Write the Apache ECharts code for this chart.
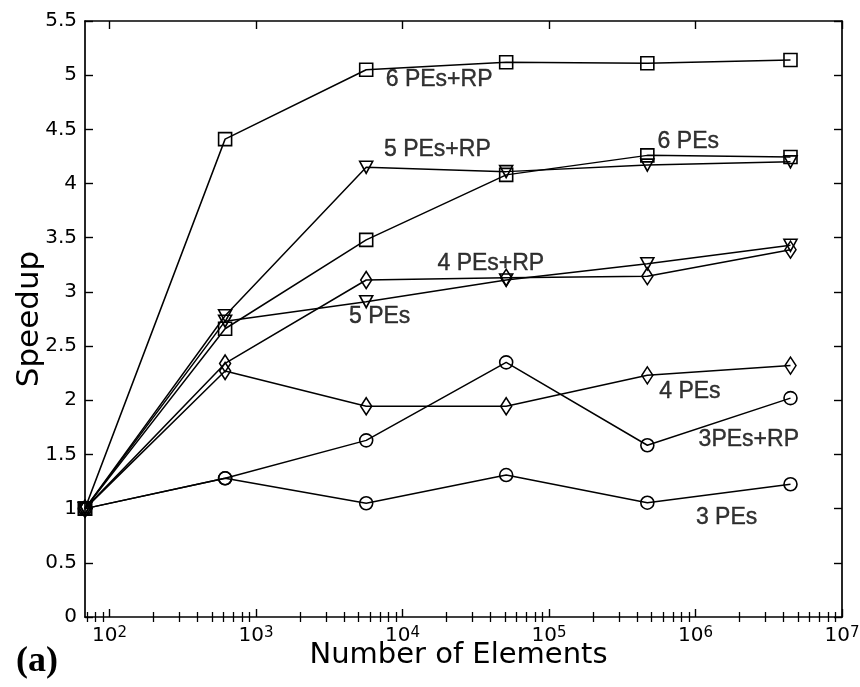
<!DOCTYPE html>
<html><head><meta charset="utf-8">
<script src="https://cdn.jsdelivr.net/npm/echarts@6/dist/echarts.min.js"></script>
<style>html,body{margin:0;padding:0;background:#fff}#c{width:860px;height:687px}</style>
</head><body><div id="c"></div>
<script>
// ---- data ----
const elements = [68, 615, 5650, 51000, 469000, 4450000];
const pe6rp = [1, 4.41, 5.05, 5.12, 5.11, 5.14];
const pe5rp = [1, 2.78, 4.15, 4.11, 4.17, 4.20];
const pe6   = [1, 2.66, 3.48, 4.08, 4.26, 4.245];
const pe5   = [1, 2.73, 2.91, 3.11, 3.26, 3.43];
const pe4rp = [1, 2.34, 3.11, 3.13, 3.145, 3.39];
const pe4   = [1, 2.27, 1.945, 1.945, 2.23, 2.32];
const pe3rp = [1, 1.28, 1.63, 2.35, 1.585, 2.02];
const pe3   = [1, 1.28, 1.05, 1.31, 1.055, 1.225];

const labelTexts = ['6 PEs+RP', '5 PEs+RP', '6 PEs', '4 PEs+RP', '5 PEs', '4 PEs', '3PEs+RP', '3 PEs'];
const labelX = [7620, 7413, 547000, 17180, 4276, 561000, 1042000, 998000];
const labelY = [4.962, 4.316, 4.39, 3.26, 2.77, 2.078, 1.64, 0.915];

const xTickValues = [100, 1000, 10000, 100000, 1000000, 10000000];
const xMinorTickValues = [70, 80, 90];
[100, 1000, 10000, 100000, 1000000].forEach(d => { for (let k = 2; k <= 9; k++) xMinorTickValues.push(k * d); });

// ---- chart ----
const FONT = 'DejaVu Sans';
const black = '#000';
const axisLine = {show: true, onZero: false, lineStyle: {color: black, width: 1.7}};
const xCommon = {type: 'log', logBase: 10, min: 68, max: 10000000, splitLine: {show: false}};

function lineSeries(name, vals, symbol, size, rotate) {
  return {
    type: 'line', name: name,
    data: elements.map((x, i) => [x, vals[i]]),
    symbol: symbol, symbolSize: size, symbolRotate: rotate || 0,
    showAllSymbol: true, clip: false,
    lineStyle: {color: black, width: 1.5},
    itemStyle: {color: 'rgba(255,255,255,0)', borderColor: black, borderWidth: 1.6},
    emphasis: {disabled: true},
    animation: false, z: 3
  };
}

const chart = echarts.init(document.getElementById('c'), null, {renderer: 'canvas'});
chart.setOption({
  animation: false,
  backgroundColor: '#fff',
  grid: {left: 85, right: 18, top: 21, bottom: 70, containLabel: false, outerBoundsMode: 'none'},
  xAxis: [
    Object.assign({}, xCommon, {
      position: 'bottom', axisLine: axisLine,
      axisTick: {show: true, inside: true, length: 8, customValues: xTickValues, lineStyle: {color: black, width: 1.4}},
      axisLabel: {
        show: true, customValues: xTickValues, margin: 9, color: black,
        formatter: v => '{b|10}{s|' + Math.round(Math.log10(v)) + '}',
        rich: {
          b: {fontFamily: FONT, fontSize: 20, color: black, lineHeight: 20, verticalAlign: 'bottom', padding: [8, 0, 0, 0]},
          s: {fontFamily: FONT, fontSize: 15, color: black, lineHeight: 15, verticalAlign: 'top'}
        }
      },
      name: 'Number of Elements', nameLocation: 'middle', nameGap: 24, nameMoveOverlap: false,
      nameTextStyle: {fontFamily: FONT, fontSize: 29, color: black, padding: [0, 10, 0, 0]}
    }),
    Object.assign({}, xCommon, {
      position: 'top', axisLine: axisLine,
      axisTick: {show: true, inside: true, length: 8, customValues: xTickValues, lineStyle: {color: black, width: 1.4}},
      axisLabel: {show: false}
    }),
    Object.assign({}, xCommon, {
      position: 'bottom', axisLine: {show: false},
      axisTick: {show: true, inside: true, length: 5, customValues: xMinorTickValues, lineStyle: {color: black, width: 1.3}},
      axisLabel: {show: false}
    }),
    Object.assign({}, xCommon, {
      position: 'top', axisLine: {show: false},
      axisTick: {show: true, inside: true, length: 5, customValues: xMinorTickValues, lineStyle: {color: black, width: 1.3}},
      axisLabel: {show: false}
    })
  ],
  yAxis: [
    {
      type: 'value', min: 0, max: 5.5, interval: 0.5, position: 'left',
      axisLine: axisLine, splitLine: {show: false},
      axisTick: {show: true, inside: true, length: 8, lineStyle: {color: black, width: 1.4}},
      axisLabel: {show: true, margin: 8, color: black, fontFamily: FONT, fontSize: 20},
      name: 'Speedup', nameLocation: 'middle', nameGap: 40, nameMoveOverlap: false,
      nameTextStyle: {fontFamily: FONT, fontSize: 31, color: black}
    },
    {
      type: 'value', min: 0, max: 5.5, interval: 0.5, position: 'right',
      axisLine: axisLine, splitLine: {show: false},
      axisTick: {show: true, inside: true, length: 8, lineStyle: {color: black, width: 1.4}},
      axisLabel: {show: false}
    }
  ],
  graphic: [
    {type: 'text', left: 16, top: 644, style: {text: '(a)', font: 'bold 36px "Liberation Serif"', fill: black}}
  ],
  series: [
    lineSeries('3 PEs', pe3, 'circle', 13),
    lineSeries('3PEs+RP', pe3rp, 'circle', 13),
    lineSeries('4 PEs', pe4, 'diamond', [11, 17]),
    lineSeries('4 PEs+RP', pe4rp, 'diamond', [11, 17]),
    lineSeries('5 PEs', pe5, 'triangle', [13, 12], 180),
    lineSeries('5 PEs+RP', pe5rp, 'triangle', [13, 12], 180),
    lineSeries('6 PEs', pe6, 'rect', 13),
    lineSeries('6 PEs+RP', pe6rp, 'rect', 13),
    {
      type: 'scatter', name: 'labels', silent: true, z: 5,
      symbolSize: 1, itemStyle: {color: 'rgba(0,0,0,0)'},
      data: labelX.map((x, i) => ({value: [x, labelY[i]], label: {formatter: labelTexts[i]}})),
      label: {show: true, position: 'right', distance: 0, color: black, fontFamily: 'Liberation Sans', fontSize: 23,
              textBorderColor: black, textBorderWidth: 0.4},
      animation: false
    }
  ]
});
</script></body></html>
